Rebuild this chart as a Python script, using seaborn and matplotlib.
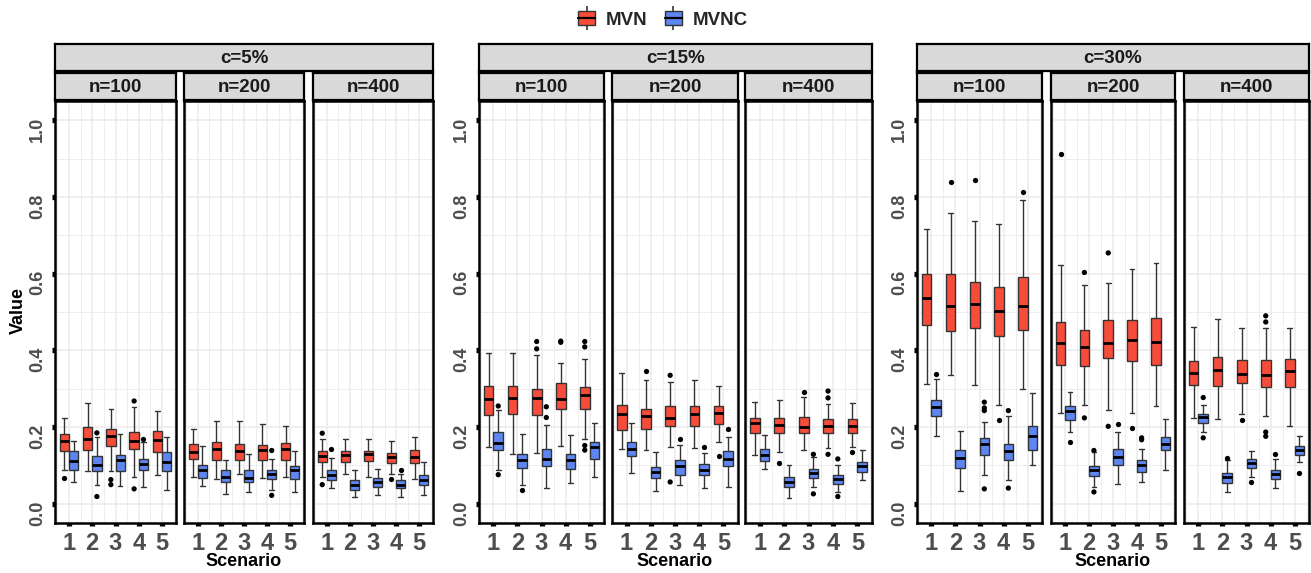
import matplotlib
matplotlib.use("Agg")
import matplotlib.pyplot as plt
import matplotlib.transforms as mtransforms
from matplotlib.patches import Patch
from matplotlib.lines import Line2D
from matplotlib.ticker import FixedLocator, FormatStrFormatter
import seaborn as sns
import pandas as pd

# facets: contamination level c and sample size n
c_levels = ["c=5%", "c=15%", "c=30%"]
n_levels = ["n=100", "n=200", "n=400"]
scenarios = ["1", "2", "3", "4", "5"]
methods = ["MVN", "MVNC"]

# box summaries, one row per (c, n) panel in order c5n100, c5n200, ..., c30n400
# each row holds scenarios 1..5
mvn_lo = [[0.087, 0.085, 0.085, 0.071, 0.074], [0.071, 0.064, 0.078, 0.068, 0.070], [0.070, 0.078, 0.070, 0.078, 0.064],
          [0.149, 0.130, 0.133, 0.152, 0.168], [0.142, 0.139, 0.147, 0.145, 0.162], [0.127, 0.136, 0.140, 0.145, 0.149],
          [0.313, 0.335, 0.309, 0.257, 0.300], [0.237, 0.257, 0.245, 0.237, 0.256], [0.223, 0.222, 0.233, 0.228, 0.204]]
mvn_q1 = [[0.137, 0.139, 0.150, 0.142, 0.134], [0.117, 0.115, 0.115, 0.115, 0.115], [0.109, 0.109, 0.111, 0.106, 0.106],
          [0.231, 0.235, 0.231, 0.246, 0.248], [0.192, 0.196, 0.203, 0.203, 0.207], [0.184, 0.184, 0.184, 0.185, 0.185],
          [0.467, 0.450, 0.459, 0.438, 0.454], [0.361, 0.360, 0.381, 0.372, 0.363], [0.310, 0.307, 0.315, 0.304, 0.304]]
mvn_med = [[0.163, 0.170, 0.178, 0.163, 0.167], [0.136, 0.144, 0.137, 0.141, 0.143], [0.124, 0.126, 0.129, 0.122, 0.122],
           [0.272, 0.277, 0.276, 0.274, 0.283], [0.233, 0.229, 0.224, 0.235, 0.237], [0.210, 0.205, 0.201, 0.203, 0.203],
           [0.537, 0.515, 0.521, 0.502, 0.516], [0.420, 0.410, 0.420, 0.426, 0.422], [0.341, 0.350, 0.339, 0.335, 0.345]]
mvn_q3 = [[0.183, 0.200, 0.195, 0.187, 0.190], [0.155, 0.161, 0.157, 0.154, 0.159], [0.137, 0.137, 0.137, 0.133, 0.141],
          [0.306, 0.308, 0.300, 0.316, 0.305], [0.258, 0.248, 0.254, 0.254, 0.255], [0.224, 0.223, 0.225, 0.220, 0.220],
          [0.600, 0.598, 0.579, 0.565, 0.592], [0.473, 0.452, 0.480, 0.478, 0.485], [0.373, 0.383, 0.376, 0.374, 0.377]]
mvn_hi = [[0.224, 0.263, 0.248, 0.252, 0.243], [0.196, 0.216, 0.216, 0.207, 0.203], [0.170, 0.170, 0.170, 0.163, 0.174],
          [0.393, 0.393, 0.387, 0.368, 0.378], [0.341, 0.324, 0.318, 0.324, 0.306], [0.265, 0.270, 0.279, 0.260, 0.263],
          [0.717, 0.757, 0.737, 0.730, 0.793], [0.623, 0.570, 0.576, 0.611, 0.628], [0.461, 0.483, 0.457, 0.459, 0.457]]

mvnc_lo = [[0.057, 0.050, 0.047, 0.045, 0.037], [0.047, 0.026, 0.030, 0.035, 0.030], [0.042, 0.017, 0.022, 0.019, 0.023],
           [0.088, 0.049, 0.040, 0.054, 0.071], [0.081, 0.033, 0.048, 0.041, 0.045], [0.090, 0.015, 0.045, 0.032, 0.062],
           [0.176, 0.033, 0.074, 0.061, 0.100], [0.187, 0.043, 0.052, 0.057, 0.089], [0.187, 0.030, 0.071, 0.041, 0.110]]
mvnc_q1 = [[0.087, 0.085, 0.085, 0.087, 0.085], [0.068, 0.057, 0.056, 0.064, 0.064], [0.061, 0.037, 0.045, 0.041, 0.050],
           [0.140, 0.093, 0.099, 0.090, 0.116], [0.125, 0.068, 0.076, 0.074, 0.099], [0.112, 0.045, 0.067, 0.052, 0.084],
           [0.230, 0.094, 0.126, 0.113, 0.141], [0.219, 0.073, 0.100, 0.083, 0.139], [0.211, 0.054, 0.094, 0.065, 0.126]]
mvnc_med = [[0.111, 0.102, 0.113, 0.103, 0.110], [0.087, 0.070, 0.067, 0.077, 0.089], [0.074, 0.050, 0.058, 0.050, 0.063],
            [0.159, 0.113, 0.117, 0.114, 0.147], [0.143, 0.084, 0.099, 0.088, 0.117], [0.127, 0.058, 0.080, 0.064, 0.099],
            [0.252, 0.120, 0.157, 0.137, 0.177], [0.241, 0.087, 0.122, 0.100, 0.157], [0.226, 0.071, 0.106, 0.078, 0.139]]
mvnc_q3 = [[0.137, 0.125, 0.127, 0.117, 0.136], [0.101, 0.087, 0.089, 0.087, 0.099], [0.087, 0.061, 0.068, 0.061, 0.075],
           [0.187, 0.129, 0.144, 0.129, 0.160], [0.160, 0.097, 0.113, 0.103, 0.137], [0.142, 0.071, 0.090, 0.074, 0.109],
           [0.271, 0.139, 0.171, 0.155, 0.202], [0.255, 0.098, 0.143, 0.113, 0.174], [0.235, 0.080, 0.117, 0.089, 0.150]]
mvnc_hi = [[0.163, 0.174, 0.181, 0.161, 0.174], [0.150, 0.113, 0.130, 0.117, 0.137], [0.120, 0.089, 0.090, 0.078, 0.109],
           [0.244, 0.182, 0.205, 0.179, 0.211], [0.211, 0.134, 0.153, 0.133, 0.175], [0.179, 0.101, 0.123, 0.101, 0.139],
           [0.326, 0.190, 0.213, 0.230, 0.290], [0.291, 0.135, 0.187, 0.143, 0.222], [0.257, 0.113, 0.137, 0.117, 0.178]]

# outliers: (c, n, scenario, value)
mvn_out = [("c=5%", "n=100", "1", 0.068), ("c=5%", "n=100", "3", 0.063), ("c=5%", "n=100", "3", 0.050),
           ("c=5%", "n=100", "4", 0.268), ("c=5%", "n=100", "4", 0.039),
           ("c=5%", "n=400", "1", 0.184), ("c=5%", "n=400", "1", 0.050), ("c=5%", "n=400", "4", 0.065),
           ("c=15%", "n=100", "3", 0.423), ("c=15%", "n=100", "3", 0.404), ("c=15%", "n=100", "4", 0.424),
           ("c=15%", "n=100", "4", 0.421), ("c=15%", "n=100", "5", 0.423), ("c=15%", "n=100", "5", 0.409),
           ("c=15%", "n=100", "5", 0.152), ("c=15%", "n=100", "5", 0.140),
           ("c=15%", "n=200", "2", 0.345), ("c=15%", "n=200", "3", 0.335), ("c=15%", "n=200", "3", 0.057),
           ("c=15%", "n=200", "5", 0.125),
           ("c=15%", "n=400", "2", 0.107), ("c=15%", "n=400", "3", 0.292), ("c=15%", "n=400", "4", 0.294),
           ("c=15%", "n=400", "4", 0.276), ("c=15%", "n=400", "4", 0.129), ("c=15%", "n=400", "5", 0.136),
           ("c=30%", "n=100", "2", 0.839), ("c=30%", "n=100", "3", 0.843), ("c=30%", "n=100", "4", 0.219),
           ("c=30%", "n=100", "5", 0.813),
           ("c=30%", "n=200", "1", 0.911), ("c=30%", "n=200", "2", 0.603), ("c=30%", "n=200", "2", 0.224),
           ("c=30%", "n=200", "3", 0.654), ("c=30%", "n=200", "3", 0.202), ("c=30%", "n=200", "4", 0.197),
           ("c=30%", "n=400", "3", 0.219), ("c=30%", "n=400", "4", 0.490), ("c=30%", "n=400", "4", 0.474),
           ("c=30%", "n=400", "4", 0.187), ("c=30%", "n=400", "4", 0.176)]
mvnc_out = [("c=5%", "n=100", "2", 0.185), ("c=5%", "n=100", "2", 0.019), ("c=5%", "n=100", "4", 0.170),
            ("c=5%", "n=200", "4", 0.139), ("c=5%", "n=200", "4", 0.022),
            ("c=5%", "n=400", "1", 0.142), ("c=5%", "n=400", "4", 0.089),
            ("c=15%", "n=100", "1", 0.255), ("c=15%", "n=100", "1", 0.076), ("c=15%", "n=100", "2", 0.036),
            ("c=15%", "n=100", "3", 0.253), ("c=15%", "n=100", "3", 0.225),
            ("c=15%", "n=200", "3", 0.168), ("c=15%", "n=200", "4", 0.149), ("c=15%", "n=200", "5", 0.194),
            ("c=15%", "n=400", "3", 0.129), ("c=15%", "n=400", "3", 0.026), ("c=15%", "n=400", "4", 0.117),
            ("c=15%", "n=400", "4", 0.019),
            ("c=30%", "n=100", "1", 0.339), ("c=30%", "n=100", "3", 0.265), ("c=30%", "n=100", "3", 0.250),
            ("c=30%", "n=100", "3", 0.243), ("c=30%", "n=100", "3", 0.039), ("c=30%", "n=100", "4", 0.243),
            ("c=30%", "n=100", "4", 0.041),
            ("c=30%", "n=200", "1", 0.161), ("c=30%", "n=200", "2", 0.139), ("c=30%", "n=200", "2", 0.031),
            ("c=30%", "n=200", "3", 0.207), ("c=30%", "n=200", "4", 0.172), ("c=30%", "n=200", "4", 0.167),
            ("c=30%", "n=400", "1", 0.277), ("c=30%", "n=400", "1", 0.172), ("c=30%", "n=400", "2", 0.120),
            ("c=30%", "n=400", "3", 0.058), ("c=30%", "n=400", "4", 0.129), ("c=30%", "n=400", "5", 0.080)]

# long table: five points per box give exactly these quartiles, whiskers drawn min..max
rows = []
stats = {"MVN": (mvn_lo, mvn_q1, mvn_med, mvn_q3, mvn_hi),
         "MVNC": (mvnc_lo, mvnc_q1, mvnc_med, mvnc_q3, mvnc_hi)}
for ci, c in enumerate(c_levels):
    for ni, n in enumerate(n_levels):
        k = ci * 3 + ni
        for si, s in enumerate(scenarios):
            for m in methods:
                for arr in stats[m]:
                    rows.append({"c": c, "n": n, "Scenario": s, "Method": m, "Value": arr[k][si]})
df = pd.DataFrame(rows)
out = pd.DataFrame([(c, n, s, "MVN", v) for c, n, s, v in mvn_out] +
                   [(c, n, s, "MVNC", v) for c, n, s, v in mvnc_out],
                   columns=["c", "n", "Scenario", "Method", "Value"])

sns.set_theme(style="white")
plt.rcParams["font.family"] = ["Liberation Sans", "DejaVu Sans"]
plt.rcParams["font.weight"] = "bold"

colors = {"MVN": "#F84C3B", "MVNC": "#5E86F2"}
W, H = 1311, 573
fig = plt.figure(figsize=(W / 100, H / 100), dpi=100)


def rect(x0, y0, x1, y1):
    return [x0 / W, 1 - y1 / H, (x1 - x0) / W, (y1 - y0) / H]


panel_x = [[(55, 176), (184, 304), (313, 433)],
           [(479, 604), (612, 738), (745, 872)],
           [(917, 1042), (1051, 1175), (1184, 1309)]]
top, bottom = 101, 523
grey = "#4D4D4D"
strip_bg = "#D9D9D9"
label_axes = []


def strip(x0, y0, x1, y1, label):
    sa = fig.add_axes(rect(x0, y0, x1, y1))
    sa.set_facecolor(strip_bg)
    sa.set_xticks([])
    sa.set_yticks([])
    for sp in sa.spines.values():
        sp.set_color("black")
        sp.set_linewidth(1.6)
    sa.text(0.5, 0.45, label, ha="center", va="center", fontsize=13.5, fontweight="bold",
            color="#1A1A1A", transform=sa.transAxes)


for ci, c in enumerate(c_levels):
    strip(panel_x[ci][0][0], 44, panel_x[ci][2][1], 71, c)
    for ni, n in enumerate(n_levels):
        x0, x1 = panel_x[ci][ni]
        strip(x0, 73, x1, 100, n)
        ax = fig.add_axes(rect(x0, top, x1, bottom))
        sub = df[(df["c"] == c) & (df["n"] == n)]
        sns.boxplot(data=sub, x="Scenario", y="Value", hue="Method", order=scenarios,
                    hue_order=methods, palette=colors, saturation=1, whis=(0, 100),
                    width=0.8, gap=0, linewidth=1.0, linecolor="#333333", fliersize=0,
                    legend=False, medianprops={"color": "black", "linewidth": 2.0}, ax=ax)
        osub = out[(out["c"] == c) & (out["n"] == n)]
        if len(osub):
            sns.stripplot(data=osub, x="Scenario", y="Value", hue="Method", order=scenarios,
                          hue_order=methods, dodge=True, jitter=False,
                          palette={"MVN": "black", "MVNC": "black"}, size=3.8,
                          legend=False, ax=ax)
        ax.set_xlim(-0.6, 4.6)
        ax.set_ylim(-0.05, 1.05)
        ax.set_yticks([0, 0.2, 0.4, 0.6, 0.8, 1.0])
        ax.yaxis.set_minor_locator(FixedLocator([0.1, 0.3, 0.5, 0.7, 0.9]))
        ax.xaxis.set_minor_locator(FixedLocator([-0.5, 0.5, 1.5, 2.5, 3.5, 4.5]))
        ax.yaxis.set_major_formatter(FormatStrFormatter("%.1f"))
        ax.grid(which="major", color="#EBEBEB", linewidth=1.1)
        ax.grid(which="minor", color="#EBEBEB", linewidth=0.6)
        ax.set_axisbelow(True)
        ax.set_xlabel("")
        ax.set_ylabel("")
        for sp in ax.spines.values():
            sp.set_color("black")
            sp.set_linewidth(1.8)
        ax.tick_params(which="minor", length=0)
        ax.tick_params(axis="x", which="major", direction="out", length=2.5, width=3.8,
                       color="black", pad=4, labelsize=17, labelcolor=grey, bottom=True)
        for lab in ax.get_xticklabels():
            lab.set_fontweight("bold")
        if ni == 0:
            ax.tick_params(axis="y", which="major", direction="out", length=2.5, width=3.8,
                           color="black", pad=4, labelsize=13, labelcolor=grey,
                           labelrotation=90, left=True)
            for lab in ax.get_yticklabels():
                lab.set_fontweight("bold")
                lab.set_va("center")
            label_axes.append(ax)
        else:
            ax.tick_params(axis="y", left=False, labelleft=False)
    mid = panel_x[ci][1]
    fig.text((mid[0] + mid[1]) / 2 / W, 1 - 562 / H, "Scenario", ha="center", va="center",
             fontsize=13, fontweight="bold", color="black")

fig.text(18 / W, 1 - 310 / H, "Value", rotation=90, ha="center", va="center",
         fontsize=13, fontweight="bold", color="black")

handles = [(Line2D([], [], marker="|", linestyle="None", markersize=17, markeredgewidth=1.2,
                   color="#333333"),
            Patch(facecolor=colors[m], edgecolor="#333333", linewidth=1.0),
            Line2D([], [], color="black", linewidth=1.6)) for m in methods]
fig.legend(handles, methods, loc="center", bbox_to_anchor=(663 / W, 1 - 20 / H), ncol=2,
           frameon=False, prop={"size": 13.5, "weight": "bold"}, handlelength=0.9,
           handleheight=0.75, columnspacing=0.9, handletextpad=0.6)

# rotated y labels sit a little below their ticks, as in the original
fig.canvas.draw()
shift = mtransforms.ScaledTranslation(0, -9 / 100, fig.dpi_scale_trans)
for ax in label_axes:
    for t in ax.yaxis.get_major_ticks():
        t.label1.set_transform(t.label1.get_transform() + shift)

fig.savefig("out.png", dpi=100)
